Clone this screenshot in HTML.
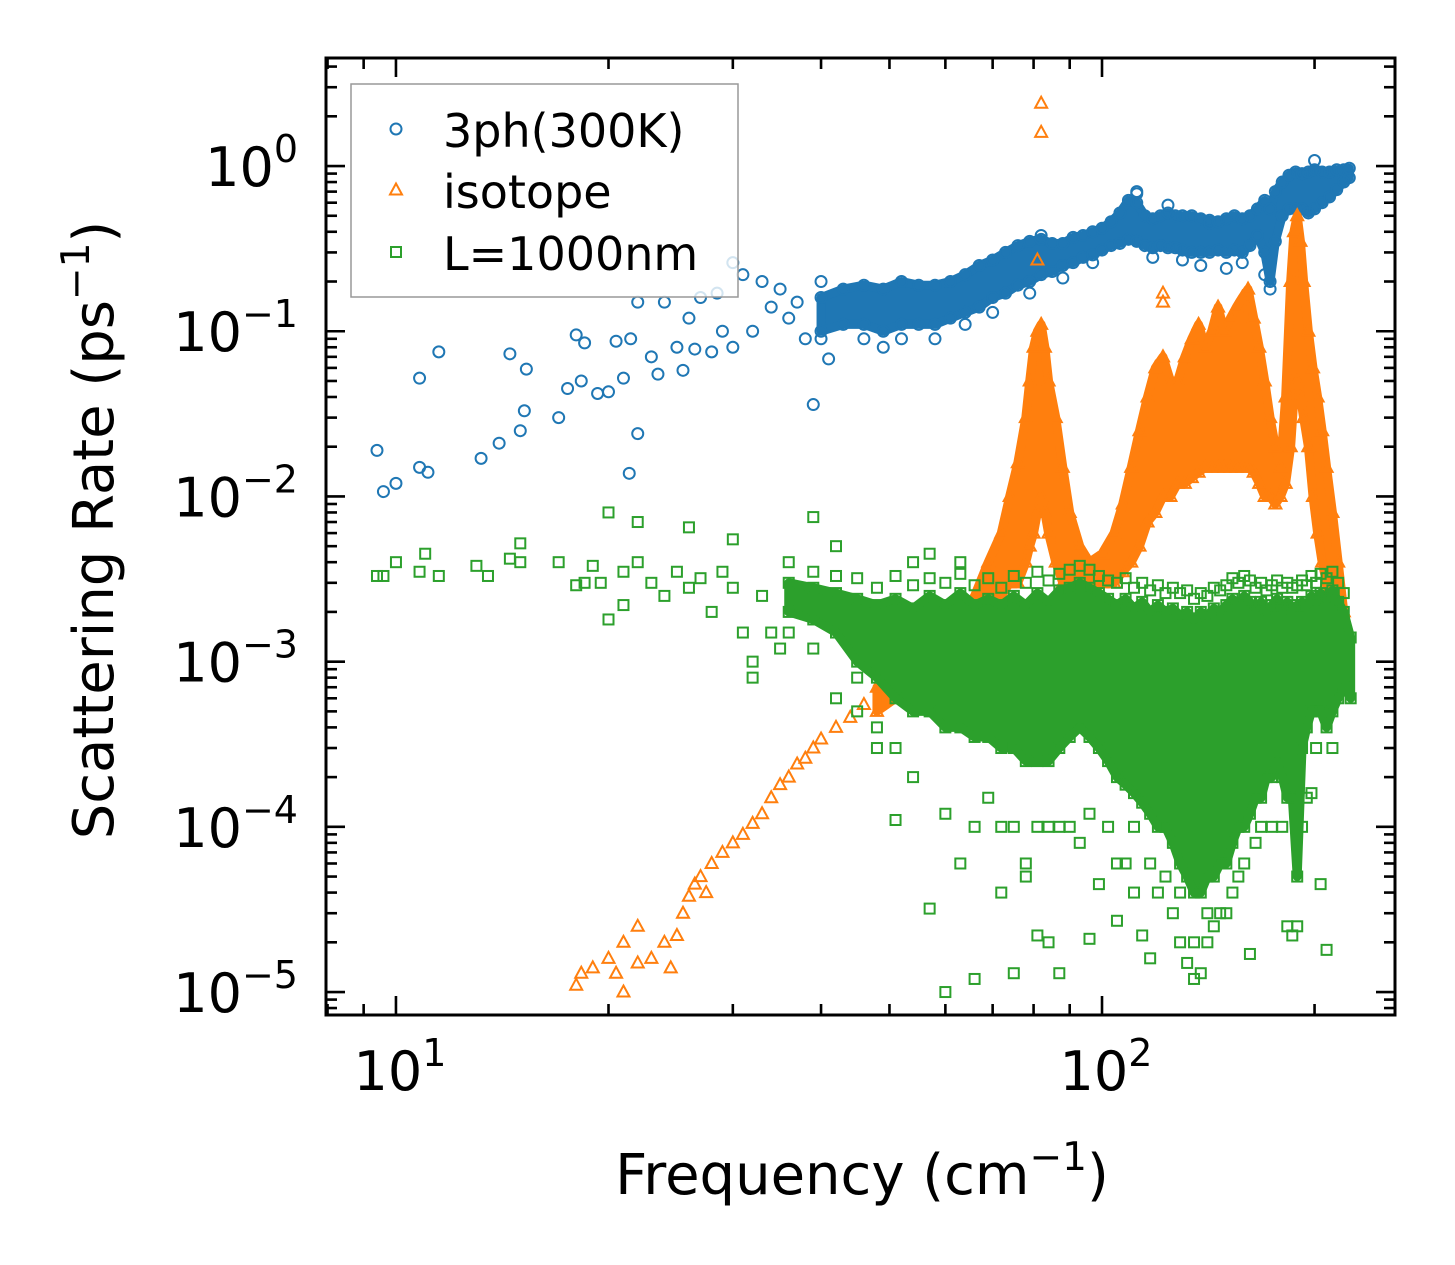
<!DOCTYPE html>
<html><head><meta charset="utf-8"><style>
html,body{margin:0;padding:0;background:#fff;}
svg{display:block;font-family:"DejaVu Sans","Liberation Sans",sans-serif;}
</style></head><body>
<svg id="chart" width="1455" height="1265" viewBox="0 0 1455 1265" xmlns="http://www.w3.org/2000/svg">
<rect width="1455" height="1265" fill="#fff"/>
<defs><clipPath id="pc"><rect x="326" y="58" width="1069" height="957"/></clipPath></defs>
<g id="plot" clip-path="url(#pc)"></g>
<g id="axes"></g>
<g id="legend"></g>
</svg>
<script>
// ---- data (frequency cm^-1, rate ps^-1) ----
const blueSparseFreq=[9.4,9.6,10,10.8,11.1,10.8,11.5,13.2,14,14.5,15,15.2,15.3,17,17.5,18,18.3,18.5,19.3,20,20.5,21,21.5,22,22,21.4,23,23.5,24,25,25.5,26,26.5,27,28,28.5,29,30,30,31,32,33,34,35,36,37,38,39,41];
const blueSparseRate=[0.019,0.0107,0.012,0.015,0.014,0.052,0.075,0.017,0.021,0.073,0.025,0.033,0.059,0.03,0.045,0.095,0.05,0.085,0.042,0.043,0.087,0.052,0.09,0.024,0.15,0.0138,0.07,0.055,0.15,0.08,0.058,0.12,0.078,0.16,0.075,0.17,0.1,0.26,0.08,0.22,0.1,0.2,0.14,0.18,0.12,0.15,0.09,0.036,0.068];
const blueBandFreq=[40,43,46,49,52,55,58,61,64,67,70,73,76,79,82,85,88,91,94,97,100,103,106,109,112,115,118,121,124,127,130,134,138,142,146,150,154,158,162,166,170,173,176,180,184,188,192,196,200,205,210,215,220,224];
const blueBandRates=[[.1,.16,.09,.2],[.11,.18],[.11,.19,.09],[.1,.18,.08],[.11,.2,.09],[.11,.19],[.11,.19,.09],[.12,.2],[.13,.22,.11],[.14,.25],[.16,.27,.13],[.17,.3],[.19,.33],[.2,.35,.17],[.22,.36,.38],[.23,.34],[.25,.34,.21],[.26,.37],[.28,.38],[.29,.4,.26],[.31,.42],[.33,.46],[.34,.52],[.36,.62],[.35,.6,.68,.7],[.33,.5],[.32,.48,.28],[.33,.5],[.32,.52,.58],[.32,.5],[.31,.5,.27],[.3,.5],[.3,.48,.25],[.3,.47,.45],[.31,.46],[.3,.48,.24],[.31,.5],[.3,.48,.26],[.33,.5],[.38,.55],[.3,.62,.22],[.2,.55,.18],[.35,.7],[.5,.8],[.55,.88],[.55,.92],[.55,.9],[.52,.92],[.55,.95,1.08],[.6,.92],[.65,.92],[.72,.95],[.8,.95],[.85,.97]];

const orangeSparseFreq=[18,18.3,19,20,20.5,21,21,22,22,23,24,24.5,25,25.5,26,26.5,27,27.5,28,29,30,31,32,33,34,35,36,37,38,39,40,42,44,46,81];
const orangeSparseRate=[1.1e-5,1.3e-5,1.4e-5,1.6e-5,1.3e-5,1e-5,2e-5,2.5e-5,1.5e-5,1.6e-5,2e-5,1.4e-5,2.2e-5,3e-5,3.8e-5,4.5e-5,5e-5,4e-5,6e-5,7e-5,8e-5,9e-5,1.05e-4,1.2e-4,1.5e-4,1.8e-4,2e-4,2.4e-4,2.6e-4,3e-4,3.4e-4,4e-4,4.6e-4,5.5e-4,0.27];
const orangeBandFreq=[48,51,54,57,60,63,66,69,72,74,76,78,79,80,81,82,83,84,86,88,90,93,96,100,104,107,110,113,116,119,122,125,128,131,134,137,140,143,146,149,152,155,158,161,164,167,170,173,176,179,182,185,187,189,191,193,196,199,202,205,208,212,216,220];
const orangeBandRates=[[5e-4,7e-4],[6e-4,9e-4],[7e-4,1.1e-3],[8e-4,1.3e-3],[1e-3,1.5e-3],[1.2e-3,1.8e-3],[1.5e-3,2.5e-3],[2e-3,4e-3],[2.5e-3,6e-3],[3e-3,1e-2],[3e-3,1.6e-2],[4e-3,3e-2],[5e-3,5e-2],[6e-3,8e-2],[8e-3,1e-1],[1e-2,1.1e-1,2.4,1.6],[8e-3,8e-2],[6e-3,5e-2],[4e-3,3e-2],[3e-3,1.5e-2],[3e-3,8e-3],[3e-3,5e-3],[2.5e-3,4e-3],[3e-3,4.5e-3],[3e-3,6e-3],[3.5e-3,9e-3],[4e-3,1.5e-2],[5e-3,2.5e-2],[7e-3,4e-2],[8e-3,6e-2],[1e-2,7e-2,0.17,0.15],[1e-2,5e-2],[1.2e-2,5e-2],[1.2e-2,7e-2],[1.3e-2,9e-2],[1.4e-2,1.1e-1],[1.5e-2,8e-2],[1.5e-2,1e-1],[1.5e-2,1.4e-1],[1.5e-2,1e-1],[1.5e-2,1.2e-1],[1.5e-2,1.4e-1],[1.5e-2,1.6e-1],[1.5e-2,1.8e-1],[1.4e-2,1.2e-1],[1.2e-2,8e-2],[1e-2,5e-2],[1e-2,3e-2],[9e-3,2e-2],[1e-2,1.5e-2],[1.2e-2,4e-2],[2e-2,0.2],[4e-2,0.4],[5e-2,0.5],[4e-2,0.35],[3e-2,0.2],[2e-2,0.1],[1e-2,0.06],[6e-3,0.04],[4e-3,0.025],[3e-3,0.015],[2e-3,0.008],[1.5e-3,0.004],[1e-3,0.002]];

const greenSparseFreq=[9.4,9.6,10,10.8,11,11.5,13,13.5,14.5,15,15,17,18,18.5,19,19.5,20,20,21,21,22,22,23,24,25,26,26,27,28,29,30,30,31,32,32,33,34,35];
const greenSparseRate=[3.3e-3,3.3e-3,4e-3,3.5e-3,4.5e-3,3.3e-3,3.8e-3,3.3e-3,4.2e-3,5.2e-3,4e-3,4e-3,2.9e-3,3e-3,3.8e-3,3e-3,8e-3,1.8e-3,3.5e-3,2.2e-3,7e-3,4e-3,3e-3,2.5e-3,3.5e-3,6.5e-3,2.8e-3,3.2e-3,2e-3,3.5e-3,5.5e-3,2.8e-3,1.5e-3,1e-3,8e-4,2.5e-3,1.5e-3,1.2e-3];
const greenBandFreq=[36,39,42,45,48,51,54,57,60,63,66,69,72,75,78,81,84,87,90,93,96,99,102,105,108,111,114,117,120,123,126,129,132,135,138,141,144,147,150,153,156,159,162,165,168,171,174,177,180,183,186,189,192,195,198,201,204,208,212,216,220,225];
const greenBandRates=[[2e-3,3e-3,1.5e-3,4e-3],[1.8e-3,2.8e-3,1.2e-3,7.5e-3,3.5e-3],[1.5e-3,2.6e-3,6e-4,5e-3,3.3e-3],[1e-3,2.4e-3,8e-4,5e-4,3.2e-3],[8e-4,2.2e-3,4e-4,3e-4,2.8e-3],[6e-4,2.4e-3,3e-4,1.1e-4,3.3e-3],[5e-4,2.1e-3,2e-4,4e-3,2.9e-3],[5e-4,2.5e-3,3.2e-5,4.5e-3,3.2e-3],[4e-4,2.2e-3,1.2e-4,1e-5,3e-3],[4e-4,2.6e-3,6e-5,4e-3,3.4e-3],[3.5e-4,2.2e-3,1e-4,1.2e-5,2.9e-3],[3.5e-4,2.4e-3,1.5e-4,3.2e-3],[3e-4,2.2e-3,1e-4,4e-5,2.8e-3],[3e-4,2.5e-3,1e-4,1.3e-5,3.3e-3],[2.5e-4,2.2e-3,6e-5,5e-5,3e-3],[2.5e-4,2.6e-3,1e-4,2.2e-5,3.5e-3],[2.5e-4,2.3e-3,1e-4,2e-5,3.1e-3],[3e-4,2.7e-3,1e-4,1.3e-5,3.4e-3],[3.5e-4,2.8e-3,1e-4,3.6e-3],[4e-4,3e-3,8e-5,3.8e-3],[3.5e-4,2.8e-3,2.1e-5,1.2e-4,3.6e-3],[3e-4,2.6e-3,4.5e-5,3.3e-3],[2.5e-4,2.4e-3,1e-4,3.1e-3],[2e-4,2.2e-3,2.7e-5,6e-5,3e-3],[1.8e-4,2.4e-3,6e-5,3.2e-3],[1.6e-4,2.1e-3,1e-4,4e-5,2.8e-3],[1.4e-4,2.3e-3,2.2e-5,3e-3],[1.2e-4,2e-3,1.6e-5,6e-5,2.7e-3],[1e-4,2.2e-3,4e-5,2.9e-3],[1e-4,2e-3,5e-5,2.6e-3],[8e-5,2.1e-3,3e-5,2.8e-3],[6e-5,1.9e-3,2e-5,4e-5,2.6e-3],[5e-5,2e-3,1.5e-5,2.7e-3],[4e-5,1.8e-3,1.2e-5,2e-5,2.4e-3],[4e-5,2e-3,1.3e-5,2.6e-3],[5e-5,1.9e-3,2e-5,3e-5,2.5e-3],[5e-5,2.1e-3,2.5e-5,2.8e-3],[6e-5,2e-3,3e-5,2.7e-3],[6e-5,2.2e-3,3e-5,2.9e-3],[8e-5,2.4e-3,4e-5,3.2e-3],[1e-4,2.2e-3,5e-5,3e-3],[1e-4,2.5e-3,6e-5,3.3e-3],[1.2e-4,2.3e-3,1.7e-5,3.1e-3],[1.5e-4,2.1e-3,8e-5,2.8e-3],[1.5e-4,2.3e-3,1e-4,3e-3],[2e-4,2e-3,2.7e-3],[2e-4,2.2e-3,1e-4,2.9e-3],[2.5e-4,2.4e-3,3.1e-3],[2e-4,2.1e-3,1e-4,2.8e-3],[1.5e-4,2.3e-3,2.5e-5,3e-3],[1.5e-4,2.1e-3,2.2e-5,2.8e-3],[5e-5,2.2e-3,2.5e-5,2.9e-3],[3e-4,2.3e-3,1e-4,3.1e-3],[4e-4,2.2e-3,1.5e-4,2.9e-3],[5e-4,2.5e-3,1.6e-4,3.3e-3],[5e-4,2.3e-3,3e-4,3e-3],[5e-4,2.6e-3,4.5e-5,3.4e-3],[4e-4,2.4e-3,1.8e-5,3.2e-3],[5e-4,2.7e-3,3e-4,3.5e-3],[6e-4,2.3e-3,3e-3],[7e-4,2e-3,2.6e-3],[6e-4,1.4e-3]];

const xTickExps=[1,2];
const yTickExps=[0,-1,-2,-3,-4,-5];
const legendLabels=["3ph(300K)","isotope","L=1000nm"];

// ---- scales ----
const X0=326,X1=1395,Y0=58,Y1=1015;
const xLogMin=Math.log10(7.96), xLogMax=Math.log10(260);
const yLogMin=-5.139, yLogMax=0.654;
function sx(f){return X0+(Math.log10(f)-xLogMin)/(xLogMax-xLogMin)*(X1-X0);}
function sy(v){return Y1-(Math.log10(v)-yLogMin)/(yLogMax-yLogMin)*(Y1-Y0);}

const NS="http://www.w3.org/2000/svg";
function mk(tag,attrs,parent){const e=document.createElementNS(NS,tag);for(const k in attrs)e.setAttribute(k,attrs[k]);parent.appendChild(e);return e;}
const plot=document.getElementById('plot'),axes=document.getElementById('axes'),legend=document.getElementById('legend');
const C={b:'#1f77b4',o:'#ff7f0e',g:'#2ca02c'};

function marker(kind,x,y,parent,name){
  let e;
  if(kind==='b'){e=mk('circle',{cx:x,cy:y,r:5.5,fill:'none',stroke:C.b,'stroke-width':2},parent);}
  else if(kind==='o'){e=mk('path',{d:`M${x},${y-6.5}L${x+6},${y+4.5}L${x-6},${y+4.5}Z`,fill:'none',stroke:C.o,'stroke-width':2},parent);}
  else {e=mk('rect',{x:x-5,y:y-5,width:10,height:10,fill:'none',stroke:C.g,'stroke-width':2},parent);}
  
  
  return e;
}
function band(kind,freqs,rates,name){
  const g=mk('g',{},plot);
  
  
  let top=[],bot=[];
  freqs.forEach((f,i)=>{top.push(sx(f)+','+sy(rates[i][1]));bot.unshift(sx(f)+','+sy(rates[i][0]));});
  const p=mk('polygon',{points:top.concat(bot).join(' '),fill:C[kind],stroke:C[kind],'stroke-width':9,'stroke-linejoin':'round'},g);
  
  
  freqs.forEach((f,i)=>rates[i].forEach(v=>marker(kind,sx(f),sy(v),g,name+'-point')));
}
function sparse(kind,fs,rs,name){
  const g=mk('g',{},plot);
  
  
  fs.forEach((f,i)=>marker(kind,sx(f),sy(rs[i]),g,name+'-point'));
}
sparse('b',blueSparseFreq,blueSparseRate,'series-3ph-sparse');
band('b',blueBandFreq,blueBandRates,'series-3ph');
sparse('o',orangeSparseFreq,orangeSparseRate,'series-isotope-sparse');
band('o',orangeBandFreq,orangeBandRates,'series-isotope');
sparse('g',greenSparseFreq,greenSparseRate,'series-boundary-sparse');
band('g',greenBandFreq,greenBandRates,'series-boundary');

// ---- axes ----
const frame=mk('rect',{x:X0,y:Y0,width:X1-X0,height:Y1-Y0,fill:'none',stroke:'#000','stroke-width':3},axes);


function tick(x1,y1,x2,y2,name){const t=mk('line',{x1,y1,x2,y2,stroke:'#000','stroke-width':2.6},axes);}
for(let d=0;d<=2;d++){for(let m=1;m<=9;m++){const f=m*Math.pow(10,d);const x=sx(f);if(x<X0+1||x>X1-1)continue;const L=m===1?19:11;
  tick(x,Y1,x,Y1-L,'x-tick');tick(x,Y0,x,Y0+L,'x-tick-top');}}
for(let d=-6;d<=0;d++){for(let m=1;m<=9;m++){const v=m*Math.pow(10,d);const y=sy(v);if(y<Y0+1||y>Y1-1)continue;const L=m===1?19:11;
  tick(X0,y,X0+L,y,'y-tick');tick(X1,y,X1-L,y,'y-tick-right');}}
xTickExps.forEach(e=>{const t=mk('text',{x:sx(Math.pow(10,e))+4,y:1090,'text-anchor':'middle','font-size':54},axes);
  
  t.innerHTML=`10<tspan dy="-24" font-size="38">${e}</tspan>`;});
yTickExps.forEach(e=>{const t=mk('text',{x:298,y:sy(Math.pow(10,e))+20,'text-anchor':'end','font-size':54},axes);
  
  t.innerHTML=`10<tspan dy="-24" font-size="38">${e<0?'\u2212'+(-e):e}</tspan>`;});
const xt=mk('text',{x:862,y:1194,'text-anchor':'middle','font-size':56},axes);

xt.innerHTML='Frequency (cm<tspan dy="-24" font-size="39">\u22121</tspan><tspan dy="24">)</tspan>';
const yt=mk('text',{x:0,y:0,'text-anchor':'middle','font-size':56,transform:'translate(113,530) rotate(-90)'},axes);

yt.innerHTML='Scattering Rate (ps<tspan dy="-24" font-size="39">\u22121</tspan><tspan dy="24">)</tspan>';

// ---- legend ----
const lb=mk('rect',{x:351,y:84,width:387,height:213,fill:'#fff','fill-opacity':0.8,stroke:'#999','stroke-width':1.5},legend);

const kinds=['b','o','g'],ly=[131,192,254];
legendLabels.forEach((s,i)=>{
  marker(kinds[i],396,ly[i]-2,legend,'legend-marker');
  const t=mk('text',{x:443,y:ly[i]+16,'font-size':46},legend);
  
  t.textContent=s;
});
</script>
</body></html>
